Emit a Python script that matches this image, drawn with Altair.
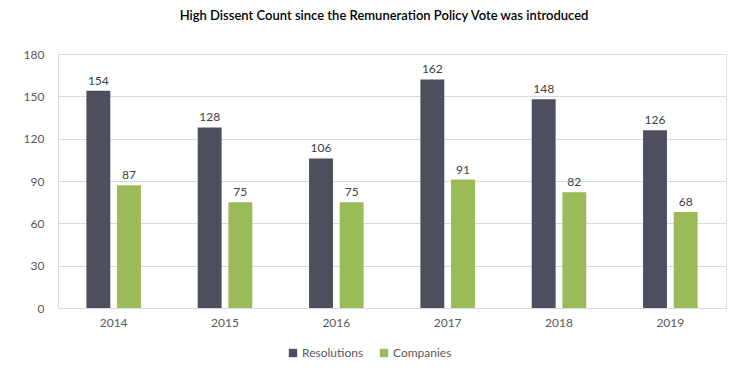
import altair as alt
import pandas as pd

years = ["2014", "2015", "2016", "2017", "2018", "2019"]
resolutions = [154, 128, 106, 162, 148, 126]
companies = [87, 75, 75, 91, 82, 68]
series = ["Resolutions", "Companies"]
colors = ["#4d4f5e", "#9bbb59"]

rows = []
for i, y in enumerate(years):
    rows.append({"Year": y, "Series": series[0], "Value": resolutions[i]})
    rows.append({"Year": y, "Series": series[1], "Value": companies[i]})
df = pd.DataFrame(rows)

FONT = "Lato"

x = alt.X("Year:N", sort=years, title=None,
          scale=alt.Scale(paddingInner=0.51, paddingOuter=0.255),
          axis=alt.Axis(labelAngle=0, ticks=False, domain=False, labelFont=FONT,
                        labelFontSize=12, labelColor="#595959", labelPadding=9))
xo = alt.XOffset("Series:N", sort=series,
                 scale=alt.Scale(paddingInner=0.22, paddingOuter=0))
y = alt.Y("Value:Q", title=None,
          scale=alt.Scale(domain=[0, 180]),
          axis=alt.Axis(values=[0, 30, 60, 90, 120, 150, 180], ticks=False, domain=False,
                        labelFont=FONT, labelFontSize=12, labelColor="#595959",
                        labelPadding=14, gridColor="#d9d9d9", gridWidth=1))
color = alt.Color("Series:N", sort=series,
                  scale=alt.Scale(domain=series, range=colors),
                  legend=alt.Legend(title=None, orient="none", direction="horizontal",
                                    legendX=229, legendY=293, symbolType="square",
                                    symbolSize=70, labelFont=FONT, labelFontSize=12,
                                    labelColor="#595959", columnPadding=14,
                                    labelOffset=3, symbolStrokeWidth=0))

bars = alt.Chart(df).mark_bar().encode(x=x, xOffset=xo, y=y, color=color)
labels = alt.Chart(df).mark_text(dy=-10, font=FONT, fontSize=12, color="#404040").encode(
    x=x, xOffset=xo, y=y, text="Value:Q")

chart = alt.layer(bars, labels).properties(
    width=668, height=254,
    autosize=alt.AutoSizeParams(type="none"),
    padding={"left": 58, "top": 54, "right": 25, "bottom": 68},
    title=alt.TitleParams("High Dissent Count since the Remuneration Policy Vote was introduced",
                          font=FONT, fontSize=13, fontWeight=600, color="#000000",
                          anchor="middle", offset=25, dx=-8),
).configure_view(stroke=None).configure(background="white")

chart.save("out.html", embed_options={"renderer": "svg", "actions": False})
